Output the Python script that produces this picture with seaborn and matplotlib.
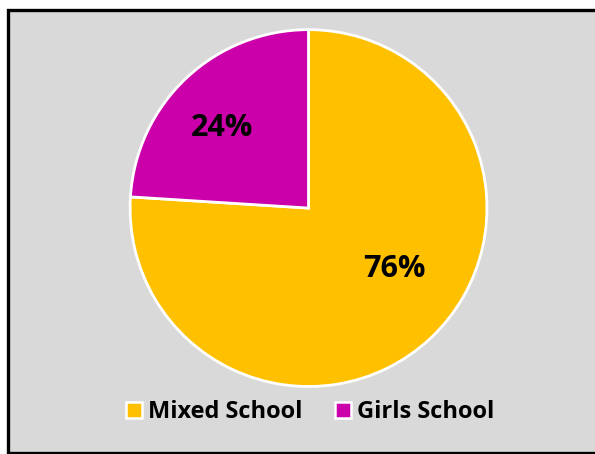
import matplotlib
matplotlib.use("Agg")
import matplotlib.pyplot as plt
import seaborn as sns
from matplotlib.patches import Rectangle
from matplotlib.lines import Line2D

categories = ["Mixed School", "Girls School"]
values = [76, 24]
colors = ["#FFC000", "#CC00AA"]

sns.set_style("white")
plt.rcParams['font.family'] = ['Open Sans', 'DejaVu Sans']
plt.rcParams['text.color'] = 'black'

fig = plt.figure(figsize=(5.95, 4.54), dpi=100)
fig.patch.set_facecolor("white")
# chart area with black border
fig.patches.append(Rectangle((7.5/595, 1 - 453/454), 1.2, (453 - 9.5)/454,
                             transform=fig.transFigure, facecolor="#D9D9D9",
                             edgecolor="black", linewidth=2.4, zorder=-10))

ax = fig.add_axes([0.2185, 0.1487, 0.6, 0.786])
ax.set_zorder(5)
ax.set_facecolor("none")
wedges, texts, autotexts = ax.pie(values, colors=colors, startangle=90, counterclock=False,
                                  autopct=lambda p: f"{p:.0f}%", pctdistance=0.62,
                                  wedgeprops=dict(edgecolor="white", linewidth=2.0),
                                  textprops=dict(fontsize=22, fontweight="bold", color="black"))
autotexts[0].set_position((0.48, -0.34))
autotexts[1].set_position((-0.485, 0.45))
ax.set_xlim(-1, 1)
ax.set_ylim(-1, 1)
ax.set_aspect("equal")
ax.axis("off")

handles = [Line2D([0], [0], marker="s", linestyle="none", markersize=11,
                  markerfacecolor=c, markeredgecolor="white", markeredgewidth=1.8)
           for c in colors]
leg = fig.legend(handles, categories, loc="center", bbox_to_anchor=(308/595, 1 - 412/454),
                 ncol=2, frameon=False, prop=dict(size=17, weight="bold"),
                 handletextpad=0.1, columnspacing=1.2, handlelength=1.0)
for t in leg.get_texts():
    t.set_color("black")

fig.savefig("out.png", dpi=100)
